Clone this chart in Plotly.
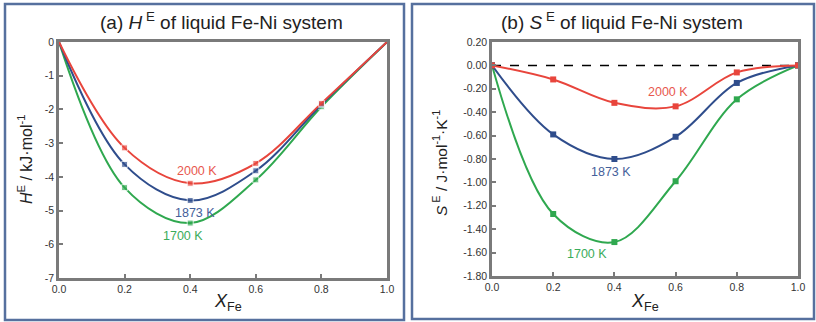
import plotly.graph_objects as go

x_fe = [0.0, 0.2, 0.4, 0.6, 0.8, 1.0]

# (a) Excess enthalpy, kJ/mol
h_2000 = [0, -3.14, -4.19, -3.60, -1.82, 0]
h_1873 = [0, -3.63, -4.70, -3.82, -1.86, 0]
h_1700 = [0, -4.32, -5.37, -4.09, -1.92, 0]

# (b) Excess entropy, J/mol/K
s_2000 = [0, -0.12, -0.32, -0.35, -0.06, 0]
s_1873 = [0, -0.59, -0.80, -0.61, -0.15, 0]
s_1700 = [0, -1.27, -1.51, -0.99, -0.29, 0]

temps = ["2000 K", "1873 K", "1700 K"]
colors = ["#e8453c", "#2f4d8c", "#2fa84f"]
label_colors = ["#e8574e", "#44609a", "#3aac5a"]

h_ticks = [0, -1, -2, -3, -4, -5, -6, -7]
s_ticks = [0.2, 0.0, -0.2, -0.4, -0.6, -0.8, -1.0, -1.2, -1.4, -1.6, -1.8]
x_ticks = [0.0, 0.2, 0.4, 0.6, 0.8, 1.0]

W, H = 816, 322
FONT = "Liberation Sans, Arial, sans-serif"

def px(v):
    return v / W

def py(v):
    return 1 - v / H

fig = go.Figure()

h_series = [h_2000, h_1873, h_1700]
s_series = [s_2000, s_1873, s_1700]

for i in [2, 1, 0]:
    fig.add_trace(go.Scatter(
        x=x_fe, y=h_series[i], mode="lines+markers",
        line=dict(color=colors[i], width=2, shape="spline", smoothing=1.0),
        marker=dict(symbol="square", size=[0, 6, 6, 6, 6, 0], color=colors[i]),
        xaxis="x", yaxis="y", showlegend=False, name=temps[i], cliponaxis=False))

# zero dashed line in (b)
fig.add_trace(go.Scatter(
    x=[0, 1], y=[0, 0], mode="lines",
    line=dict(color="#000000", width=1.5, dash="dash"),
    xaxis="x2", yaxis="y2", showlegend=False))

for i in [2, 1, 0]:
    fig.add_trace(go.Scatter(
        x=x_fe, y=s_series[i], mode="lines+markers",
        line=dict(color=colors[i], width=2, shape="spline", smoothing=1.0),
        marker=dict(symbol="square", size=6, color=colors[i]),
        xaxis="x2", yaxis="y2", showlegend=False, name=temps[i], cliponaxis=False))

axis_common = dict(
    showline=True, linecolor="#7a7a7a", linewidth=2.5, mirror=True,
    showgrid=False, zeroline=False, ticks="inside", ticklen=4,
    tickcolor="#7a7a7a", tickwidth=1.5, automargin=False,
    tickfont=dict(family=FONT, size=10.5, color="#333333"),
)

fig.update_layout(
    width=W, height=H,
    margin=dict(l=0, r=0, t=0, b=0),
    paper_bgcolor="white", plot_bgcolor="white",
    xaxis=dict(domain=[px(59), px(387)], range=[0, 1], tickvals=x_ticks,
               ticktext=[f"{v:.1f}" for v in x_ticks], anchor="y", **axis_common),
    yaxis=dict(domain=[py(278), py(42)], range=[-7, 0], tickvals=h_ticks,
               ticktext=[str(v) for v in h_ticks], anchor="x", **axis_common),
    xaxis2=dict(domain=[px(492), px(798)], range=[0, 1], tickvals=x_ticks,
                ticktext=[f"{v:.1f}" for v in x_ticks], anchor="y2", **axis_common),
    yaxis2=dict(domain=[py(276), py(42)], range=[-1.8, 0.2], tickvals=s_ticks,
                ticktext=[f"{v:.2f}" for v in s_ticks], anchor="x2", **axis_common),
)

ann = []
# titles
ann.append(dict(xref="paper", yref="paper", x=px(222), y=py(21), xanchor="center", yanchor="middle",
                text="(a) <i>H</i><sup> E</sup> of liquid Fe-Ni system", showarrow=False,
                font=dict(family=FONT, size=19, color="#222222")))
ann.append(dict(xref="paper", yref="paper", x=px(622), y=py(21), xanchor="center", yanchor="middle",
                text="(b) <i>S</i><sup> E</sup> of liquid Fe-Ni system", showarrow=False,
                font=dict(family=FONT, size=19, color="#222222")))
# x-axis titles
ann.append(dict(xref="paper", yref="paper", x=px(228), y=py(302), xanchor="center", yanchor="middle",
                text="<i>X</i><sub>Fe</sub>", showarrow=False,
                font=dict(family=FONT, size=18, color="#222222")))
ann.append(dict(xref="paper", yref="paper", x=px(645), y=py(302), xanchor="center", yanchor="middle",
                text="<i>X</i><sub>Fe</sub>", showarrow=False,
                font=dict(family=FONT, size=18, color="#222222")))
# y-axis titles
ann.append(dict(xref="paper", yref="paper", x=px(25), y=py(160), xanchor="center", yanchor="middle",
                text="<i>H</i><sup>E</sup> / kJ·mol<sup>-1</sup>", showarrow=False, textangle=-90,
                font=dict(family=FONT, size=16, color="#222222")))
ann.append(dict(xref="paper", yref="paper", x=px(440), y=py(163), xanchor="center", yanchor="middle",
                text="<i>S</i><sup> E</sup> / J·mol<sup>-1</sup>·K<sup>-1</sup>", showarrow=False, textangle=-90,
                font=dict(family=FONT, size=15.5, color="#222222")))

# series labels
h_lab = [(0.42, -3.83), (0.415, -5.08), (0.378, -5.76)]
s_lab = [(0.575, -0.23), (0.39, -0.915), (0.31, -1.615)]
for i in range(3):
    ann.append(dict(xref="x", yref="y", x=h_lab[i][0], y=h_lab[i][1], text=temps[i],
                    showarrow=False, font=dict(family=FONT, size=12.5, color=label_colors[i])))
    ann.append(dict(xref="x2", yref="y2", x=s_lab[i][0], y=s_lab[i][1], text=temps[i],
                    showarrow=False, font=dict(family=FONT, size=12.5, color=label_colors[i])))
fig.update_layout(annotations=ann)

# panel frames
frame = dict(type="rect", xref="paper", yref="paper",
             line=dict(color="#56709e", width=2.5), fillcolor="rgba(0,0,0,0)", layer="below")
fig.add_shape(x0=px(5), x1=px(404), y0=py(320), y1=py(4), **frame)
fig.add_shape(x0=px(412), x1=px(814), y0=py(319), y1=py(4), **frame)

fig.write_html("out.html", config={"displayModeBar": False},
               post_script="document.body.style.margin='0';document.body.style.overflow='hidden';")
